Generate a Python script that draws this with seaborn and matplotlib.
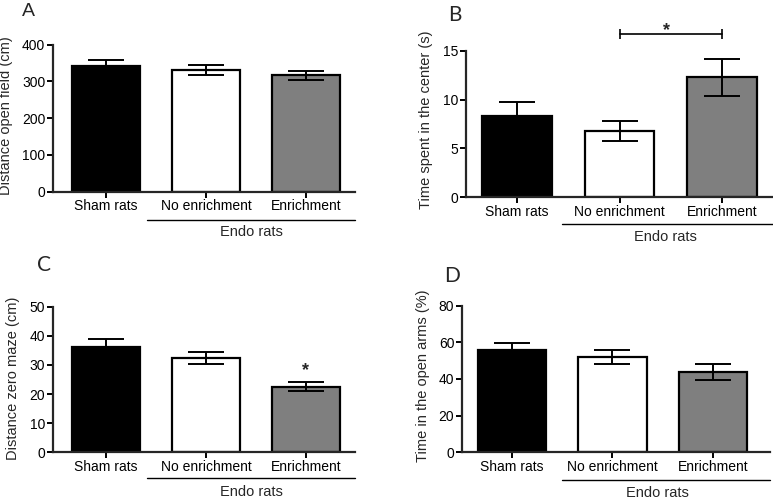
import matplotlib
matplotlib.use("Agg")
import matplotlib.pyplot as plt
import seaborn as sns
import pandas as pd

# ===== DATA (means and SEM) =====
groups = ["Sham rats", "No enrichment", "Enrichment"]
bar_colors = ["#000000", "#ffffff", "#7f7f7f"]

dist_open_field = [342, 331, 317]
dist_open_field_sem = [16, 14, 12]

time_center = [8.3, 6.8, 12.3]
time_center_sem = [1.4, 1.0, 1.9]

dist_zero_maze = [36.2, 32.4, 22.5]
dist_zero_maze_sem = [2.6, 2.2, 1.5]

time_open_arms = [55.9, 52.0, 43.8]
time_open_arms_sem = [3.6, 4.0, 4.4]

sns.set_style("ticks")
plt.rcParams['font.family'] = ['Liberation Sans', 'DejaVu Sans']

W, H = 773, 499
fig = plt.figure(figsize=(W / 100, H / 100), dpi=100)


def add_axes_px(left, right, y0, ytop):
    """Place an axes from pixel coordinates of the reference"""
    return fig.add_axes([left / W, (H - y0) / H, (right - left) / W, (y0 - ytop) / H])


def draw_panel(ax, values, sem, ylabel, yticks, xlim, label_x, label_y,
               line_y, text_y, line_start):
    df = pd.DataFrame({'group': groups, 'value': values})
    sns.barplot(data=df, x='group', y='value', hue='group',
                palette=dict(zip(groups, bar_colors)), width=0.68,
                edgecolor='black', linewidth=1.6, legend=False, ax=ax)
    ax.errorbar(range(len(groups)), values, yerr=sem, fmt='none', ecolor='black',
                elinewidth=1.4, capsize=13, capthick=1.4, zorder=5)
    ax.set_xlim(*xlim)
    ax.set_ylim(yticks[0], yticks[-1])
    ax.set_yticks(yticks)
    ax.set_xlabel("")
    ax.set_ylabel(ylabel, fontsize=10.5)
    ax.yaxis.set_label_coords(label_x, label_y)
    sns.despine(ax=ax)
    for side in ['left', 'bottom']:
        ax.spines[side].set_linewidth(1.6)
    ax.tick_params(axis='both', labelsize=10, width=1.4, length=4, pad=1.5, colors='black')
    # "Endo rats" grouping line under the two endometriosis groups
    tr = ax.get_xaxis_transform()
    ax.plot([line_start, xlim[1]], [line_y, line_y], color='black', lw=1.0,
            transform=tr, clip_on=False)
    ax.text(1.45, text_y, "Endo rats", transform=tr, ha='center', va='center', fontsize=10.5)


# A
axA = add_axes_px(53, 355, 191.7, 44.7)
draw_panel(axA, dist_open_field, dist_open_field_sem, "Distance open field (cm)",
           [0, 100, 200, 300, 400], (-0.53, 2.49), -0.133, 0.52, -0.193, -0.274, 0.41)

# B
axB = add_axes_px(466, 773, 197.3, 50.7)
draw_panel(axB, time_center, time_center_sem, "Time spent in the center (s)",
           [0, 5, 10, 15], (-0.5, 2.5), -0.107, 0.53, -0.182, -0.271, 0.44)
axB.plot([1, 2], [16.7, 16.7], color='black', lw=1.2, clip_on=False)
axB.plot([1, 2], [16.7, 16.7], ls='none', marker='|', ms=7, mew=1.2, color='black', clip_on=False)
axB.text(1.46, 17.05, "*", ha='center', va='center', fontsize=13, fontweight='bold')

# C
axC = add_axes_px(53, 355, 452.3, 306.7)
draw_panel(axC, dist_zero_maze, dist_zero_maze_sem, "Distance zero maze (cm)",
           [0, 10, 20, 30, 40, 50], (-0.53, 2.49), -0.109, 0.51, -0.177, -0.273, 0.41)
axC.text(1.99, 28.0, "*", ha='center', va='center', fontsize=13, fontweight='bold')

# D
axD = add_axes_px(462, 770, 452.3, 305.7)
draw_panel(axD, time_open_arms, time_open_arms_sem, "Time in the open arms (%)",
           [0, 20, 40, 60, 80], (-0.5, 2.57), -0.104, 0.52, -0.189, -0.278, 0.5)

# panel letters
fig.text(28 / W, 1 - 11 / H, "A", ha='center', va='center', fontsize=14)
fig.text(455 / W, 1 - 15 / H, "B", ha='center', va='center', fontsize=15, family=['Lato', 'DejaVu Sans'])
fig.text(44 / W, 1 - 265 / H, "C", ha='center', va='center', fontsize=15, family=['Lato', 'DejaVu Sans'])
fig.text(452 / W, 1 - 276 / H, "D", ha='center', va='center', fontsize=15, family=['Lato', 'DejaVu Sans'])

fig.savefig("out.png", dpi=100)
plt.close(fig)
